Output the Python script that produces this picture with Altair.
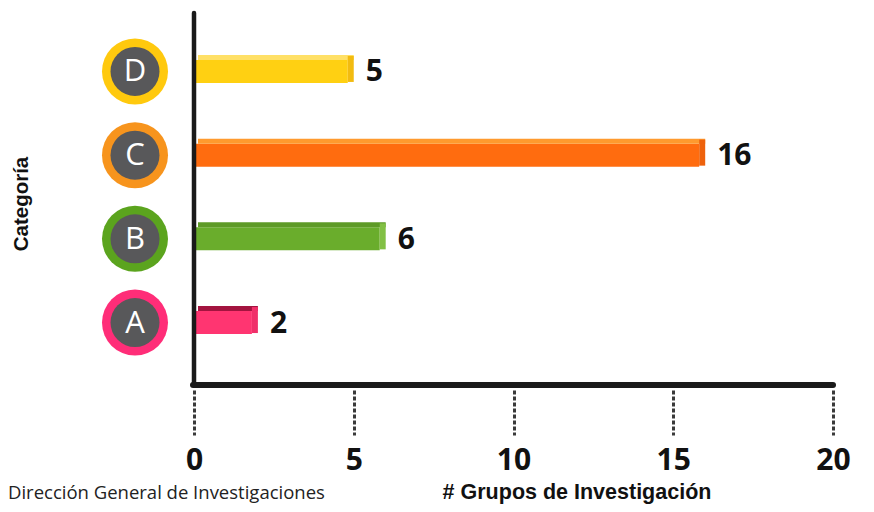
import altair as alt
import pandas as pd

# ---- data ----
categories = ["A", "B", "C", "D"]
values = [2, 6, 16, 5]
ring_colors = ["#FF2D78", "#5BA41E", "#F7941D", "#FFC90E"]
front_colors = ["#FF3571", "#6AAD2C", "#FF6C0F", "#FFD012"]
top_colors = ["#A3143F", "#5E9A27", "#FF9A2E", "#FFE066"]
side_colors = ["#F0306A", "#82C044", "#EE620C", "#F2BB10"]
x_ticks = [0, 5, 10, 15, 20]
y_order = ["D", "C", "B", "A"]
x_title = "# Grupos de Investigación"
y_title = "Categoría"
source_note = "Dirección General de Investigaciones"

df = pd.DataFrame({
    "cat": categories,
    "value": values,
    "ring": ring_colors,
    "front": front_colors,
    "top": top_colors,
    "side": side_colors,
})
one = pd.DataFrame({"k": [0]})

W, H = 639, 373

X = alt.X(
    "value:Q",
    scale=alt.Scale(domain=[0, 20], nice=False, zero=True),
    axis=alt.Axis(
        values=x_ticks, title=None, domain=False, grid=False,
        ticks=True, tickSize=45, tickWidth=3, tickDash=[4, 2], tickColor="#3a3a3a",
        offset=5, labelFont="Open Sans", labelFontSize=30, labelFontWeight="bold",
        labelColor="#111111", labelPadding=10, labelFlush=False,
    ),
)
Y = alt.Y("cat:N", sort=y_order,
          scale=alt.Scale(domain=y_order, range=[17.6, 352.4], paddingInner=0, paddingOuter=0),
          axis=None)

base = alt.Chart(df)

front = base.mark_bar(size=23, xOffset=-6, cornerRadius=0).encode(
    x=X, x2=alt.X2(datum=0), y=Y, color=alt.Color("front:N", scale=None))
top = base.mark_bar(size=5, yOffset=-14, x2Offset=4).encode(
    x=X, x2=alt.X2(datum=0), y=Y, color=alt.Color("top:N", scale=None))
side = base.mark_bar(size=26, yOffset=-2.5, x2Offset=-6).encode(
    x=X, x2="value:Q", y=Y, color=alt.Color("side:N", scale=None))

labels = base.mark_text(align="left", baseline="middle", dx=12, dy=1,
                        font="Open Sans", fontSize=30, fontWeight="bold", color="#111111").encode(
    x=X, y=Y, text="value:Q")

ring = base.mark_circle(size=4356, opacity=1).encode(
    x=alt.value(-59), y=Y, color=alt.Color("ring:N", scale=None))
inner = base.mark_circle(size=2401, opacity=1, color="#58585A").encode(
    x=alt.value(-59), y=Y)
letters = base.mark_text(align="center", baseline="middle", dy=1, font="Open Sans",
                         fontSize=31, color="white").encode(
    x=alt.value(-59), y=Y, text="cat:N")

yline = alt.Chart(one).mark_rule(color="#1a1a1a", strokeWidth=4.5, strokeCap="round").encode(
    x=alt.value(0), y=alt.value(1), y2=alt.value(373))
xline = alt.Chart(one).mark_rule(color="#1a1a1a", strokeWidth=6, strokeCap="round").encode(
    x=alt.value(-1), x2=alt.value(639), y=alt.value(373))

xtitle = alt.Chart(one).mark_text(align="center", baseline="alphabetic", font="Liberation Sans",
                                  fontSize=21.5, fontWeight="bold", color="#111111").encode(
    x=alt.value(383), y=alt.value(487), text=alt.value(x_title))
ytitle = alt.Chart(one).mark_text(align="center", baseline="middle", angle=270, font="Liberation Sans",
                                  fontSize=20.5, fontWeight="bold", color="#111111").encode(
    x=alt.value(-172), y=alt.value(192), text=alt.value(y_title))
note = alt.Chart(one).mark_text(align="left", baseline="alphabetic", font="Open Sans",
                                fontSize=18.5, color="#222222").encode(
    x=alt.value(-186), y=alt.value(487), text=alt.value(source_note))

chart = alt.layer(
    front, top, side, labels, ring, inner, letters, yline, xline, xtitle, ytitle, note
).properties(
    width=W, height=H,
    autosize=alt.AutoSizeParams(type="none"),
    padding={"left": 186, "top": 4, "right": 33, "bottom": 119},
    background="white",
).configure_view(stroke=None)

chart.save("out.html", embed_options={"renderer": "svg", "actions": False})
